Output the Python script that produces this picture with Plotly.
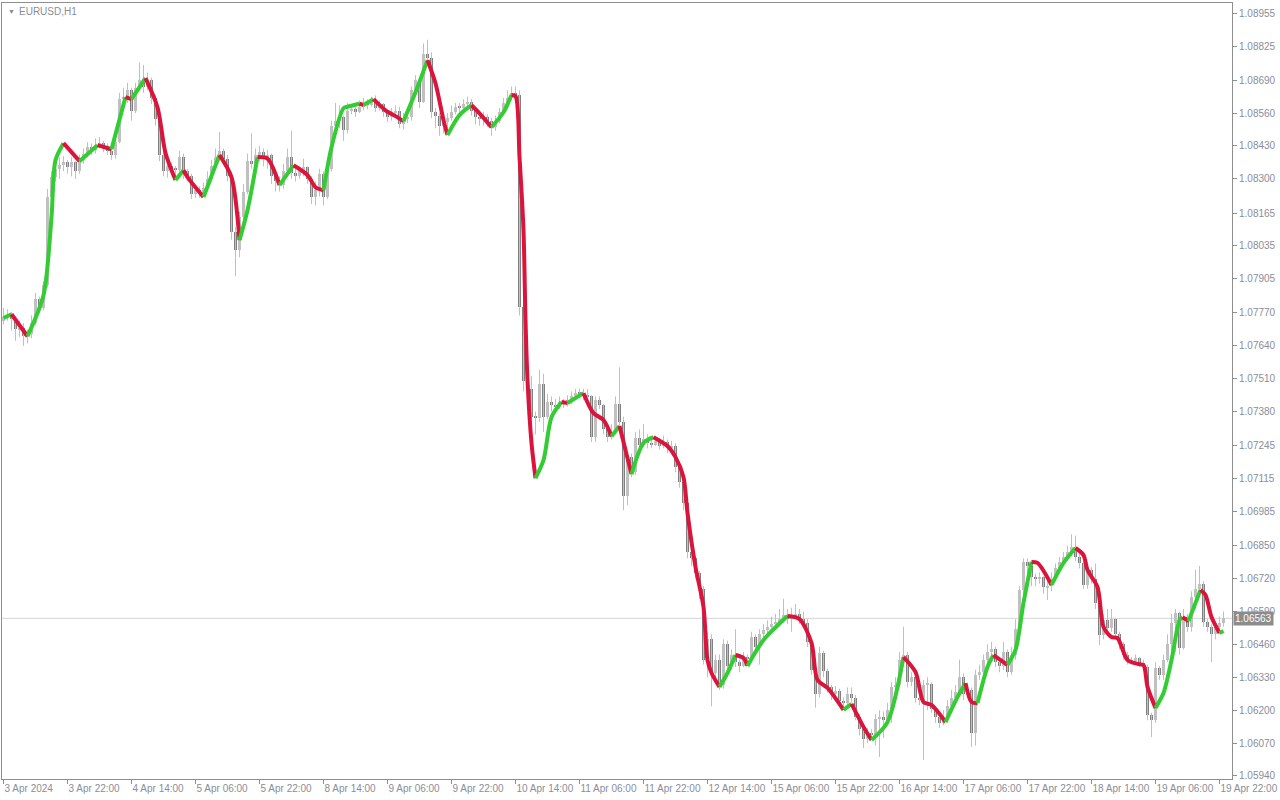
import plotly.graph_objects as go

# ---------------- data ----------------
first_open = 1.07740
close = [
    1.07755, 1.07760, 1.07745, 1.07705, 1.07712, 1.07680, 1.07688, 1.07730, 1.07825, 1.07790, 1.07880,
    1.08227, 1.08307, 1.08340, 1.08355, 1.08365, 1.08345, 1.08365, 1.08330, 1.08375, 1.08400,
    1.08425, 1.08415, 1.08435, 1.08440, 1.08425, 1.08410, 1.08395, 1.08445, 1.08615, 1.08625,
    1.08650, 1.08570, 1.08660, 1.08690, 1.08665, 1.08690, 1.08620, 1.08535, 1.08395, 1.08330,
    1.08350, 1.08340, 1.08335, 1.08385, 1.08330, 1.08310, 1.08240, 1.08255, 1.08245, 1.08265,
    1.08300, 1.08350, 1.08385, 1.08410, 1.08380, 1.08310, 1.08090, 1.08020, 1.08150, 1.08250,
    1.08370, 1.08360, 1.08395, 1.08405, 1.08380, 1.08395, 1.08310, 1.08290, 1.08275, 1.08330,
    1.08385, 1.08325, 1.08310, 1.08330, 1.08345, 1.08300, 1.08230, 1.08255, 1.08320, 1.08230,
    1.08340, 1.08510, 1.08530, 1.08545, 1.08495, 1.08570, 1.08575, 1.08565, 1.08585, 1.08600,
    1.08590, 1.08605, 1.08580, 1.08595, 1.08565, 1.08543, 1.08560, 1.08570, 1.08515, 1.08535,
    1.08545, 1.08650, 1.08690, 1.08605, 1.08795, 1.08778, 1.08563, 1.08550, 1.08510, 1.08525,
    1.08540, 1.08565, 1.08585, 1.08582, 1.08595, 1.08605, 1.08570, 1.08545, 1.08535, 1.08545,
    1.08530, 1.08505, 1.08530, 1.08565, 1.08600, 1.08620, 1.08640, 1.08630, 1.07795, 1.07500,
    1.07470, 1.07360, 1.07355, 1.07490, 1.07360, 1.07420, 1.07405, 1.07400, 1.07420, 1.07412,
    1.07425, 1.07440, 1.07455, 1.07452, 1.07445, 1.07440, 1.07280, 1.07425, 1.07405, 1.07310,
    1.07280, 1.07295, 1.07410, 1.07340, 1.07045, 1.07200, 1.07140, 1.07275, 1.07250, 1.07270,
    1.07255, 1.07250, 1.07265, 1.07245, 1.07260, 1.07235, 1.07245, 1.07160, 1.07100, 1.07020,
    1.06825, 1.06800, 1.06742, 1.06680, 1.06400, 1.06480, 1.06345, 1.06400, 1.06300, 1.06460,
    1.06375, 1.06420, 1.06390, 1.06375, 1.06410, 1.06405, 1.06490, 1.06450, 1.06500, 1.06515,
    1.06530, 1.06540, 1.06550, 1.06560, 1.06575, 1.06560, 1.06570, 1.06580, 1.06560, 1.06545,
    1.06470, 1.06360, 1.06262, 1.06425, 1.06355, 1.06290, 1.06262, 1.06275, 1.06235, 1.06230,
    1.06265, 1.06250, 1.06175, 1.06125, 1.06085, 1.06110, 1.06100, 1.06165, 1.06175, 1.06160,
    1.06200, 1.06290, 1.06300, 1.06400, 1.06420, 1.06310, 1.06330, 1.06250, 1.06240, 1.06300,
    1.06305, 1.06205, 1.06175, 1.06150, 1.06175, 1.06215, 1.06250, 1.06272, 1.06330, 1.06265,
    1.06280, 1.06110, 1.06339, 1.06350, 1.06398, 1.06430, 1.06440, 1.06390, 1.06375, 1.06430,
    1.06350, 1.06420, 1.06520, 1.06675, 1.06786, 1.06770, 1.06726, 1.06720, 1.06725, 1.06685,
    1.06690, 1.06720, 1.06760, 1.06785, 1.06805, 1.06825, 1.06845, 1.06805, 1.06781, 1.06694,
    1.06754, 1.06720, 1.06624, 1.06497, 1.06556, 1.06525, 1.06560, 1.06500, 1.06460, 1.06420,
    1.06395, 1.06398, 1.06405, 1.06385, 1.06370, 1.06181, 1.06160, 1.06367, 1.06340, 1.06400,
    1.06460, 1.06544, 1.06584, 1.06446, 1.06570, 1.06530, 1.06647, 1.06680, 1.06700, 1.06548,
    1.06529, 1.06500, 1.06530, 1.06545, 1.06563,
]
high = [
    1.07790, 1.07785, 1.07775, 1.07755, 1.07740, 1.07730, 1.07705, 1.07760, 1.07850, 1.07835, 1.07895,
    1.08260, 1.08330, 1.08370, 1.08385, 1.08390, 1.08375, 1.08385, 1.08370, 1.08395, 1.08420,
    1.08445, 1.08440, 1.08460, 1.08465, 1.08450, 1.08440, 1.08430, 1.08460, 1.08640, 1.08660,
    1.08680, 1.08660, 1.08680, 1.08760, 1.08750, 1.08720, 1.08700, 1.08630, 1.08545, 1.08410,
    1.08380, 1.08365, 1.08350, 1.08410, 1.08400, 1.08340, 1.08320, 1.08275, 1.08270, 1.08285,
    1.08330, 1.08375, 1.08420, 1.08485, 1.08420, 1.08395, 1.08320, 1.08110, 1.08170, 1.08280,
    1.08400, 1.08480, 1.08420, 1.08430, 1.08420, 1.08415, 1.08400, 1.08330, 1.08310, 1.08360,
    1.08420, 1.08490, 1.08350, 1.08350, 1.08380, 1.08350, 1.08310, 1.08290, 1.08340, 1.08330,
    1.08370, 1.08530, 1.08600, 1.08590, 1.08550, 1.08600, 1.08590, 1.08585, 1.08610, 1.08620,
    1.08615, 1.08625, 1.08630, 1.08610, 1.08600, 1.08570, 1.08580, 1.08590, 1.08585, 1.08560,
    1.08570, 1.08665, 1.08710, 1.08700, 1.08835, 1.08850, 1.08800, 1.08580, 1.08560, 1.08550,
    1.08560, 1.08590, 1.08600, 1.08600, 1.08615, 1.08625, 1.08615, 1.08580, 1.08560, 1.08565,
    1.08555, 1.08540, 1.08550, 1.08580, 1.08620, 1.08650, 1.08665, 1.08665, 1.08650, 1.07810,
    1.07535, 1.07520, 1.07380, 1.07545, 1.07530, 1.07450, 1.07440, 1.07430, 1.07440, 1.07430,
    1.07445, 1.07460, 1.07470, 1.07470, 1.07470, 1.07470, 1.07445, 1.07440, 1.07440, 1.07410,
    1.07320, 1.07330, 1.07440, 1.07555, 1.07360, 1.07220, 1.07215, 1.07300, 1.07310, 1.07330,
    1.07290, 1.07275, 1.07285, 1.07275, 1.07285, 1.07270, 1.07265, 1.07255, 1.07170, 1.07110,
    1.07030, 1.06840, 1.06810, 1.06750, 1.06690, 1.06510, 1.06500, 1.06420, 1.06420, 1.06480,
    1.06475, 1.06440, 1.06520, 1.06400, 1.06430, 1.06420, 1.06510, 1.06500, 1.06520, 1.06540,
    1.06555, 1.06570, 1.06580, 1.06600, 1.06640, 1.06600, 1.06605, 1.06620, 1.06600, 1.06590,
    1.06560, 1.06480, 1.06370, 1.06450, 1.06435, 1.06365, 1.06300, 1.06295, 1.06285, 1.06250,
    1.06290, 1.06290, 1.06260, 1.06185, 1.06135, 1.06130, 1.06125, 1.06185, 1.06200, 1.06195,
    1.06230, 1.06310, 1.06330, 1.06430, 1.06530, 1.06430, 1.06350, 1.06340, 1.06320, 1.06320,
    1.06330, 1.06310, 1.06215, 1.06185, 1.06200, 1.06240, 1.06280, 1.06300, 1.06400, 1.06345,
    1.06300, 1.06290, 1.06360, 1.06380, 1.06420, 1.06460, 1.06470, 1.06450, 1.06400, 1.06470,
    1.06440, 1.06450, 1.06560, 1.06690, 1.06800, 1.06800, 1.06780, 1.06740, 1.06745, 1.06730,
    1.06710, 1.06745, 1.06780, 1.06805, 1.06825, 1.06850, 1.06895, 1.06890, 1.06830, 1.06790,
    1.06780, 1.06765, 1.06780, 1.06630, 1.06580, 1.06600, 1.06600, 1.06565, 1.06510, 1.06470,
    1.06430, 1.06410, 1.06420, 1.06410, 1.06400, 1.06380, 1.06190, 1.06390, 1.06375, 1.06420,
    1.06500, 1.06580, 1.06600, 1.06590, 1.06600, 1.06580, 1.06670, 1.06755, 1.06770, 1.06710,
    1.06560, 1.06540, 1.06550, 1.06570, 1.06590,
]
low = [
    1.07725, 1.07740, 1.07700, 1.07660, 1.07675, 1.07640, 1.07650, 1.07670, 1.07720, 1.07770, 1.07780,
    1.07870, 1.08200, 1.08290, 1.08300, 1.08330, 1.08320, 1.08310, 1.08300, 1.08320, 1.08360,
    1.08385, 1.08395, 1.08400, 1.08420, 1.08405, 1.08395, 1.08375, 1.08380, 1.08440, 1.08580,
    1.08600, 1.08530, 1.08560, 1.08650, 1.08640, 1.08650, 1.08595, 1.08510, 1.08370, 1.08310,
    1.08305, 1.08320, 1.08310, 1.08320, 1.08300, 1.08290, 1.08220, 1.08225, 1.08225, 1.08230,
    1.08250, 1.08290, 1.08340, 1.08370, 1.08360, 1.08290, 1.08060, 1.07915, 1.07990, 1.08140,
    1.08240, 1.08340, 1.08340, 1.08370, 1.08350, 1.08340, 1.08280, 1.08250, 1.08250, 1.08260,
    1.08320, 1.08300, 1.08290, 1.08300, 1.08310, 1.08280, 1.08200, 1.08195, 1.08230, 1.08195,
    1.08220, 1.08330, 1.08490, 1.08500, 1.08450, 1.08480, 1.08555, 1.08545, 1.08560, 1.08570,
    1.08575, 1.08585, 1.08565, 1.08570, 1.08545, 1.08525, 1.08530, 1.08545, 1.08500, 1.08495,
    1.08520, 1.08530, 1.08630, 1.08580, 1.08600, 1.08760, 1.08540, 1.08500, 1.08470, 1.08480,
    1.08500, 1.08530, 1.08555, 1.08565, 1.08570, 1.08580, 1.08550, 1.08515, 1.08510, 1.08510,
    1.08505, 1.08470, 1.08490, 1.08520, 1.08560, 1.08590, 1.08610, 1.08600, 1.07760, 1.07460,
    1.07440, 1.07330, 1.07290, 1.07340, 1.07300, 1.07350, 1.07380, 1.07380, 1.07390, 1.07395,
    1.07400, 1.07410, 1.07430, 1.07435, 1.07425, 1.07420, 1.07260, 1.07260, 1.07390, 1.07290,
    1.07260, 1.07270, 1.07290, 1.07320, 1.06990, 1.07010, 1.07120, 1.07130, 1.07230, 1.07240,
    1.07235, 1.07235, 1.07245, 1.07230, 1.07235, 1.07215, 1.07220, 1.07140, 1.07080, 1.06990,
    1.06800, 1.06770, 1.06720, 1.06640, 1.06380, 1.06330, 1.06215, 1.06330, 1.06280, 1.06285,
    1.06350, 1.06360, 1.06370, 1.06350, 1.06370, 1.06385, 1.06390, 1.06430, 1.06380, 1.06480,
    1.06505, 1.06515, 1.06520, 1.06530, 1.06545, 1.06540, 1.06510, 1.06560, 1.06540, 1.06525,
    1.06450, 1.06340, 1.06210, 1.06250, 1.06330, 1.06270, 1.06240, 1.06250, 1.06215, 1.06210,
    1.06220, 1.06230, 1.06160, 1.06100, 1.06050, 1.06070, 1.06085, 1.06060, 1.06015, 1.06090,
    1.06140, 1.06150, 1.06270, 1.06290, 1.06390, 1.06290, 1.06295, 1.06230, 1.06220, 1.06003,
    1.06200, 1.06190, 1.06150, 1.06130, 1.06140, 1.06160, 1.06200, 1.06230, 1.06260, 1.06240,
    1.06255, 1.06055, 1.06060, 1.06320, 1.06330, 1.06380, 1.06410, 1.06370, 1.06350, 1.06360,
    1.06330, 1.06340, 1.06400, 1.06500, 1.06620, 1.06740, 1.06690, 1.06690, 1.06700, 1.06660,
    1.06635, 1.06670, 1.06710, 1.06750, 1.06770, 1.06790, 1.06810, 1.06790, 1.06760, 1.06680,
    1.06680, 1.06700, 1.06600, 1.06457, 1.06480, 1.06500, 1.06510, 1.06480, 1.06440, 1.06400,
    1.06380, 1.06385, 1.06385, 1.06370, 1.06355, 1.06160, 1.06094, 1.06150, 1.06320, 1.06320,
    1.06390, 1.06420, 1.06430, 1.06420, 1.06440, 1.06510, 1.06510, 1.06600, 1.06660, 1.06530,
    1.06510, 1.06390, 1.06480, 1.06500, 1.06530,
]

# smoothed indicator line, read at bar positions
line_bar = [
    0, 2, 6, 10, 12, 13, 15, 19, 23.5, 27, 30.5, 32, 35.5, 38.5, 40.5, 43, 45, 46, 50, 54,
    57, 59, 61, 63.5, 66, 69, 72.5, 76, 78, 80, 82, 85, 86, 89, 90, 92.5, 95.5, 98, 100, 103,
    106, 108, 110, 111, 114, 117, 119, 122, 125, 127, 128, 129, 130, 130.5, 131, 132, 133, 135, 137, 139.5,
    141, 145, 147.5, 150, 152, 154, 157, 160, 162.5, 166, 168, 170, 171, 173, 175, 176, 177, 179, 181, 183,
    185, 186, 190, 196, 199, 202, 203.5, 206, 210, 212, 215, 217, 221, 225, 228, 230, 232, 235.5, 238.5, 240.5,
    242, 243.5, 246, 247.5, 250, 251, 253, 255, 257, 258.5, 262, 265, 268, 270, 271, 273.5, 275, 277, 278.5, 281,
    283.5, 285, 286, 288, 290, 292, 294, 294.75, 296.25, 299.25, 300.5, 302, 304, 305,
]
line_val = [
    1.07750, 1.07765, 1.07678, 1.07840, 1.08149, 1.08374, 1.08441, 1.08370, 1.08433, 1.08417,
    1.08623, 1.08615, 1.08698, 1.08583, 1.08402, 1.08295, 1.08334, 1.08307, 1.08228, 1.08394,
    1.08307, 1.08058, 1.08176, 1.08386, 1.08380, 1.08275, 1.08354, 1.08315, 1.08267, 1.08255,
    1.08425, 1.08579, 1.08585, 1.08597, 1.08592, 1.08615, 1.08571, 1.08548, 1.08528, 1.08642,
    1.08769, 1.08678, 1.08532, 1.08473, 1.08552, 1.08591, 1.08559, 1.08504, 1.08563, 1.08631,
    1.08627, 1.08386, 1.08097, 1.07742, 1.07505, 1.07256, 1.07117, 1.07188, 1.07358, 1.07418,
    1.07414, 1.07453, 1.07374, 1.07347, 1.07283, 1.07323, 1.07133, 1.07256, 1.07279, 1.07244,
    1.07200, 1.07121, 1.06979, 1.06766, 1.06608, 1.06398, 1.06347, 1.06292, 1.06347, 1.06418,
    1.06406, 1.06375, 1.06477, 1.06572, 1.06560, 1.06466, 1.06319, 1.06288, 1.06201, 1.06225,
    1.06134, 1.06082, 1.06153, 1.06410, 1.06351, 1.06232, 1.06221, 1.06153, 1.06252, 1.06307,
    1.06232, 1.06228, 1.06371, 1.06418, 1.06390, 1.06379, 1.06438, 1.06624, 1.06786, 1.06782,
    1.06695, 1.06782, 1.06841, 1.06813, 1.06754, 1.06687, 1.06529, 1.06489, 1.06485, 1.06398,
    1.06383, 1.06378, 1.06292, 1.06209, 1.06268, 1.06398, 1.06556, 1.06568, 1.06552, 1.06675,
    1.06655, 1.06568, 1.06505, 1.06513,
]

x_tick_bars = [0, 16, 32, 48, 64, 80, 96, 112, 128, 144, 160, 176, 192, 208, 224, 240, 256, 272, 288, 304]
x_tick_labels = ["3 Apr 2024", "3 Apr 22:00", "4 Apr 14:00", "5 Apr 06:00", "5 Apr 22:00",
                 "8 Apr 14:00", "9 Apr 06:00", "9 Apr 22:00", "10 Apr 14:00", "11 Apr 06:00",
                 "11 Apr 22:00", "12 Apr 14:00", "15 Apr 06:00", "15 Apr 22:00", "16 Apr 14:00",
                 "17 Apr 06:00", "17 Apr 22:00", "18 Apr 14:00", "19 Apr 06:00", "19 Apr 22:00"]
y_ticks = [1.05940, 1.06070, 1.06200, 1.06330, 1.06460, 1.06590, 1.06720, 1.06850, 1.06985, 1.07115,
           1.07245, 1.07380, 1.07510, 1.07640, 1.07770, 1.07905, 1.08035, 1.08165, 1.08300, 1.08430,
           1.08560, 1.08690, 1.08825, 1.08955]
symbol_title = "EURUSD,H1"
current_price = close[-1]

assert len(close) == len(high) == len(low) == 306, (len(close), len(high), len(low))
assert len(line_bar) == len(line_val), (len(line_bar), len(line_val))

# ---------------- build ----------------
n = len(close)
bars = list(range(n))
opens = [first_open] + close[:-1]

AX = "#8a8d99"
LIGHT = "#c0c0c0"
DARK = "#808080"
GREEN = "#32cd32"
RED = "#dc143c"
FONT = "Liberation Sans, Arial, sans-serif"

fig = go.Figure()

# wicks
wx, wy = [], []
for i in bars:
    lo = min(low[i], opens[i], close[i])
    hi = max(high[i], opens[i], close[i])
    wx += [i, i, None]
    wy += [lo, hi, None]
fig.add_trace(go.Scatter(x=wx, y=wy, mode="lines", line=dict(color=LIGHT, width=1),
                         hoverinfo="skip", showlegend=False))

# bodies
MIN_BODY = 0.00003
for up, col in ((True, LIGHT), (False, DARK)):
    bx, bb, bh = [], [], []
    for i in bars:
        is_up = close[i] >= opens[i]
        if is_up != up:
            continue
        lo = min(opens[i], close[i])
        h = abs(close[i] - opens[i])
        if h < MIN_BODY:
            lo -= (MIN_BODY - h) / 2
            h = MIN_BODY
        bx.append(i); bb.append(lo); bh.append(h)
    fig.add_trace(go.Bar(x=bx, y=bh, base=bb, width=0.75, marker=dict(color=col, line=dict(width=0)),
                         hoverinfo="skip", showlegend=False))

# indicator line, coloured by direction
segs = []
cur = None
for k in range(len(line_val) - 1):
    d = line_val[k + 1] >= line_val[k]
    if cur is None or cur[0] != d:
        cur = [d, [line_bar[k]], [line_val[k]]]
        segs.append(cur)
    cur[1].append(line_bar[k + 1])
    cur[2].append(line_val[k + 1])
for d, xs, ys in segs:
    fig.add_trace(go.Scatter(x=xs, y=ys, mode="lines",
                             line=dict(color=GREEN if d else RED, width=4, shape="spline", smoothing=0.8),
                             hoverinfo="skip", showlegend=False))

# current price line
fig.add_shape(type="line", xref="paper", x0=0, x1=1, yref="y", y0=current_price, y1=current_price,
              line=dict(color="#d4d4d4", width=1), layer="below")

fig.add_annotation(xref="paper", x=1, xanchor="left", xshift=1, yref="y", y=current_price,
                   text=f"{current_price:.5f}", showarrow=False,
                   font=dict(family=FONT, size=10, color="white"), bgcolor="#8c8c8c",
                   borderpad=1)
fig.add_annotation(xref="paper", yref="paper", x=0, y=1, xanchor="left", yanchor="top",
                   xshift=4, yshift=-3, text="▼", showarrow=False,
                   font=dict(family=FONT, size=7, color="#8a8a8a"))
fig.add_annotation(xref="paper", yref="paper", x=0, y=1, xanchor="left", yanchor="top",
                   xshift=15, yshift=-1, text=symbol_title, showarrow=False,
                   font=dict(family=FONT, size=10, color="#8a8d99"))

fig.update_layout(
    width=1280, height=800,
    margin=dict(l=2, r=48, t=3, b=21, autoexpand=False),
    paper_bgcolor="white", plot_bgcolor="white",
    barmode="overlay", bargap=0,
    showlegend=False,
    font=dict(family=FONT, size=10, color=AX),
    xaxis=dict(range=[-0.375, 307.125], showgrid=False, zeroline=False, automargin=False,
               showline=True, linecolor="#8e8e8e", linewidth=1, mirror=True,
               tickmode="array", tickvals=x_tick_bars, ticktext=x_tick_labels, tickangle=0,
               ticks="outside", ticklen=4, tickcolor="#8e8e8e",
               ticklabelposition="outside right",
               tickfont=dict(family=FONT, size=10, color=AX)),
    yaxis=dict(range=[1.05928, 1.08995], side="right", showgrid=False, zeroline=False, automargin=False,
               showline=True, linecolor="#8e8e8e", linewidth=1, mirror=True,
               tickmode="array", tickvals=y_ticks, ticktext=[f"{v:.5f}" for v in y_ticks],
               ticks="outside", ticklen=4, tickcolor="#8e8e8e",
               tickfont=dict(family=FONT, size=10, color=AX)),
)

fig.write_html("out.html", config={"displayModeBar": False},
               post_script="document.body.style.margin='0';document.body.style.overflow='hidden';")
